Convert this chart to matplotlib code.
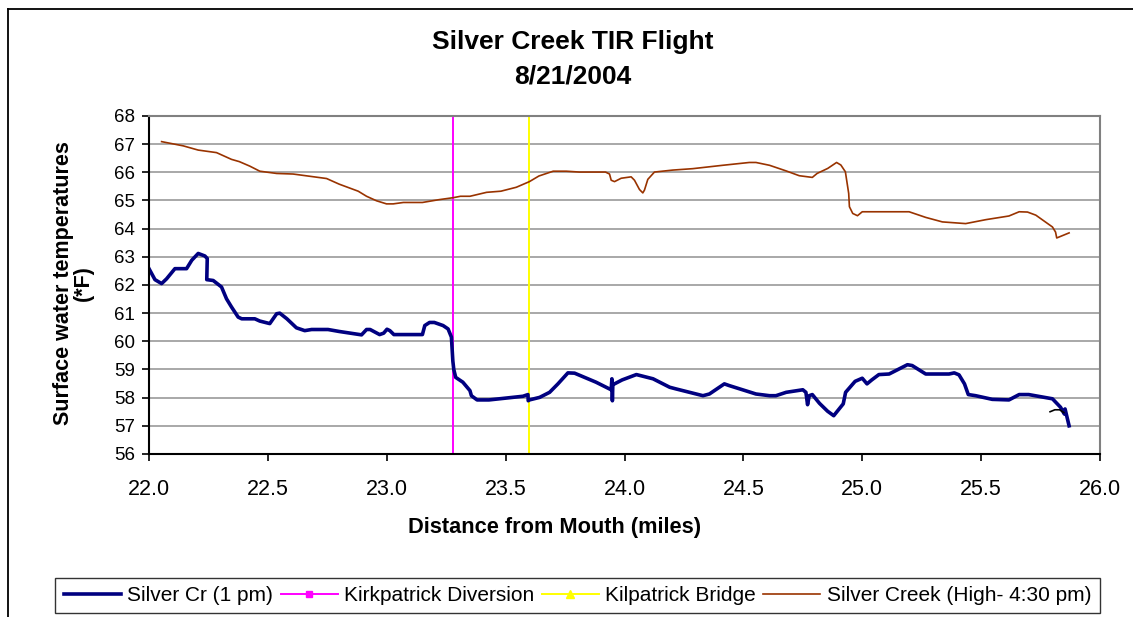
import numpy as np
import matplotlib
matplotlib.use("Agg")
import matplotlib.pyplot as plt
from matplotlib.lines import Line2D

plt.rcParams["font.family"] = ["Liberation Sans", "DejaVu Sans"]

# Silver Cr (1 pm)
blue_x = [22.00, 22.025, 22.053, 22.074, 22.109, 22.158, 22.18, 22.207, 22.235, 22.245,
          22.243, 22.27, 22.305, 22.326, 22.347, 22.375, 22.39, 22.445, 22.466, 22.508,
          22.537, 22.55, 22.58, 22.62, 22.655, 22.684, 22.753, 22.80, 22.894, 22.915,
          22.93, 22.97, 22.987, 23.001, 23.013, 23.03, 23.15, 23.16, 23.18, 23.20,
          23.237, 23.258, 23.272, 23.278, 23.282, 23.29, 23.32, 23.35, 23.356, 23.38,
          23.43, 23.573, 23.594, 23.595, 23.60, 23.643, 23.685, 23.72, 23.762, 23.79,
          23.88, 23.944, 23.947, 23.949, 23.951, 23.958, 23.99, 24.05, 24.12, 24.19,
          24.217, 24.33, 24.357, 24.42, 24.44, 24.553, 24.61, 24.637, 24.68, 24.75,
          24.763, 24.77, 24.777, 24.79, 24.82, 24.854, 24.88, 24.92, 24.93, 24.97,
          25.00, 25.02, 25.04, 25.07, 25.113, 25.155, 25.19, 25.21, 25.267, 25.365,
          25.387, 25.407, 25.43, 25.446, 25.477, 25.547, 25.617, 25.66, 25.70, 25.80,
          25.834, 25.85, 25.853, 25.87]
blue_y = [62.58, 62.19, 62.05, 62.22, 62.58, 62.58, 62.88, 63.12, 63.03, 62.94,
          62.19, 62.16, 61.93, 61.51, 61.22, 60.86, 60.80, 60.80, 60.72, 60.63,
          60.98, 61.00, 60.80, 60.48, 60.38, 60.42, 60.42, 60.35, 60.23, 60.42,
          60.42, 60.24, 60.29, 60.43, 60.38, 60.24, 60.24, 60.56, 60.67, 60.67,
          60.56, 60.44, 60.15, 59.30, 59.00, 58.72, 58.55, 58.25, 58.07, 57.92,
          57.92, 58.05, 58.11, 57.89, 57.92, 58.01, 58.19, 58.49, 58.88, 58.87,
          58.55, 58.28, 58.67, 57.89, 58.49, 58.49, 58.63, 58.82, 58.67, 58.37,
          58.31, 58.07, 58.13, 58.49, 58.43, 58.13, 58.07, 58.07, 58.19, 58.28,
          58.19, 57.75, 58.07, 58.11, 57.80, 57.52, 57.36, 57.78, 58.19, 58.58,
          58.69, 58.49, 58.63, 58.82, 58.84, 59.02, 59.17, 59.14, 58.84, 58.84,
          58.88, 58.81, 58.49, 58.11, 58.07, 57.94, 57.92, 58.11, 58.11, 57.96,
          57.66, 57.42, 57.60, 57.00]

# Silver Creek (High- 4:30 pm)
brown_x = [22.053, 22.144, 22.207, 22.284, 22.347, 22.38, 22.424, 22.466, 22.537, 22.606,
           22.747, 22.80, 22.88, 22.915, 22.957, 22.999, 23.027, 23.07, 23.15, 23.22,
           23.28, 23.31, 23.35, 23.42, 23.48, 23.545, 23.60, 23.64, 23.70, 23.755,
           23.81, 23.92, 23.937, 23.944, 23.958, 23.986, 24.028, 24.042, 24.063, 24.077,
           24.084, 24.098, 24.126, 24.203, 24.287, 24.413, 24.525, 24.553, 24.61, 24.68,
           24.735, 24.79, 24.81, 24.855, 24.892, 24.91, 24.929, 24.943, 24.946, 24.96,
           24.98, 25.00, 25.197, 25.267, 25.337, 25.435, 25.52, 25.617, 25.66, 25.695,
           25.73, 25.77, 25.80, 25.813, 25.818, 25.87]
brown_y = [67.09, 66.94, 66.79, 66.70, 66.46, 66.38, 66.22, 66.04, 65.96, 65.94,
           65.78, 65.58, 65.33, 65.15, 64.99, 64.88, 64.88, 64.93, 64.93, 65.03,
           65.10, 65.15, 65.15, 65.29, 65.33, 65.47, 65.67, 65.87, 66.04, 66.04,
           66.01, 66.01, 65.94, 65.72, 65.67, 65.79, 65.84, 65.72, 65.39, 65.27,
           65.37, 65.75, 66.01, 66.08, 66.13, 66.25, 66.35, 66.35, 66.25, 66.05,
           65.88, 65.82, 65.96, 66.14, 66.35, 66.26, 66.02, 65.25, 64.78, 64.54,
           64.46, 64.60, 64.60, 64.40, 64.24, 64.18, 64.32, 64.45, 64.60, 64.59,
           64.48, 64.24, 64.06, 63.88, 63.67, 63.85]

kirkpatrick_x = 23.28
kilpatrick_x = 23.60

# small stray mark near the end of the blue line
mark_x = [25.79, 25.81, 25.83, 25.848]
mark_y = [57.50, 57.57, 57.57, 57.47]

fig = plt.figure(figsize=(11.33, 6.17), dpi=100)
W, H = 1133, 617
ax = fig.add_axes([149 / W, 1 - 454 / H, (1100 - 149) / W, (454 - 116) / H])

ax.set_xlim(22, 26)
ax.set_ylim(56, 68)
ax.set_xticks(np.arange(22, 26.01, 0.5))
ax.set_yticks(np.arange(56, 68.1, 1))
ax.set_xticklabels([f"{v:.1f}" for v in np.arange(22, 26.01, 0.5)])
ax.yaxis.grid(True, color="#999999", linewidth=1.2)
ax.set_axisbelow(True)

ax.plot([kirkpatrick_x, kirkpatrick_x], [56, 68], color="#FF00FF", lw=1.4)
ax.plot([kilpatrick_x, kilpatrick_x], [56, 68], color="#FFFF00", lw=1.4)
ax.plot(brown_x, brown_y, color="#993300", lw=1.2)
ax.plot(blue_x, blue_y, color="#000080", lw=2.6, solid_joinstyle="round")
ax.plot(mark_x, mark_y, color="black", lw=1.2)

for s in ["left", "bottom"]:
    ax.spines[s].set_color("black")
    ax.spines[s].set_linewidth(1.5)
for s in ["top", "right"]:
    ax.spines[s].set_color("#808080")
    ax.spines[s].set_linewidth(1.5)

ax.tick_params(axis="both", direction="out", length=5, width=1.2)
ax.tick_params(axis="y", pad=5, labelsize=13.5)
ax.tick_params(axis="x", pad=13, labelsize=15.5)

fig.text(573 / W, 1 - 42 / H, "Silver Creek TIR Flight", ha="center", va="center",
         fontsize=19, fontweight="bold")
fig.text(573 / W, 1 - 77 / H, "8/21/2004", ha="center", va="center",
         fontsize=19, fontweight="bold")
fig.text(555 / W, 1 - 527 / H, "Distance from Mouth (miles)", ha="center", va="center",
         fontsize=15.7, fontweight="bold")
fig.text(64 / W, 1 - 283 / H, "Surface water temperatures", ha="center", va="center",
         rotation=90, fontsize=15.5, fontweight="bold")
fig.text(83 / W, 1 - 283 / H, "(*F)", ha="center", va="center",
         rotation=90, fontsize=15.5, fontweight="bold")

# outer chart frame (left and top edges visible)
fig.add_artist(Line2D([8 / W, 8 / W], [0, 1 - 9 / H], color="black", lw=1.3,
                      transform=fig.transFigure))
fig.add_artist(Line2D([8 / W, 1], [1 - 9 / H, 1 - 9 / H], color="black", lw=1.3,
                      transform=fig.transFigure))

handles = [
    Line2D([], [], color="#000080", lw=2.6),
    Line2D([], [], color="#FF00FF", lw=1.4, marker="s", markersize=5),
    Line2D([], [], color="#FFFF00", lw=1.4, marker="^", markersize=6),
    Line2D([], [], color="#993300", lw=1.2),
]
labels = ["Silver Cr (1 pm)", "Kirkpatrick Diversion", "Kilpatrick Bridge",
          "Silver Creek (High- 4:30 pm)"]
leg = fig.legend(handles, labels, loc="center", ncol=4,
                 bbox_to_anchor=(577.5 / W, 1 - 595.5 / H), fontsize=15,
                 frameon=True, fancybox=False, edgecolor="black",
                 handlelength=2.75, handletextpad=0.3, columnspacing=0.35,
                 borderpad=0.4, numpoints=1)
leg.get_frame().set_linewidth(1.0)

fig.savefig("out.png", dpi=100)
